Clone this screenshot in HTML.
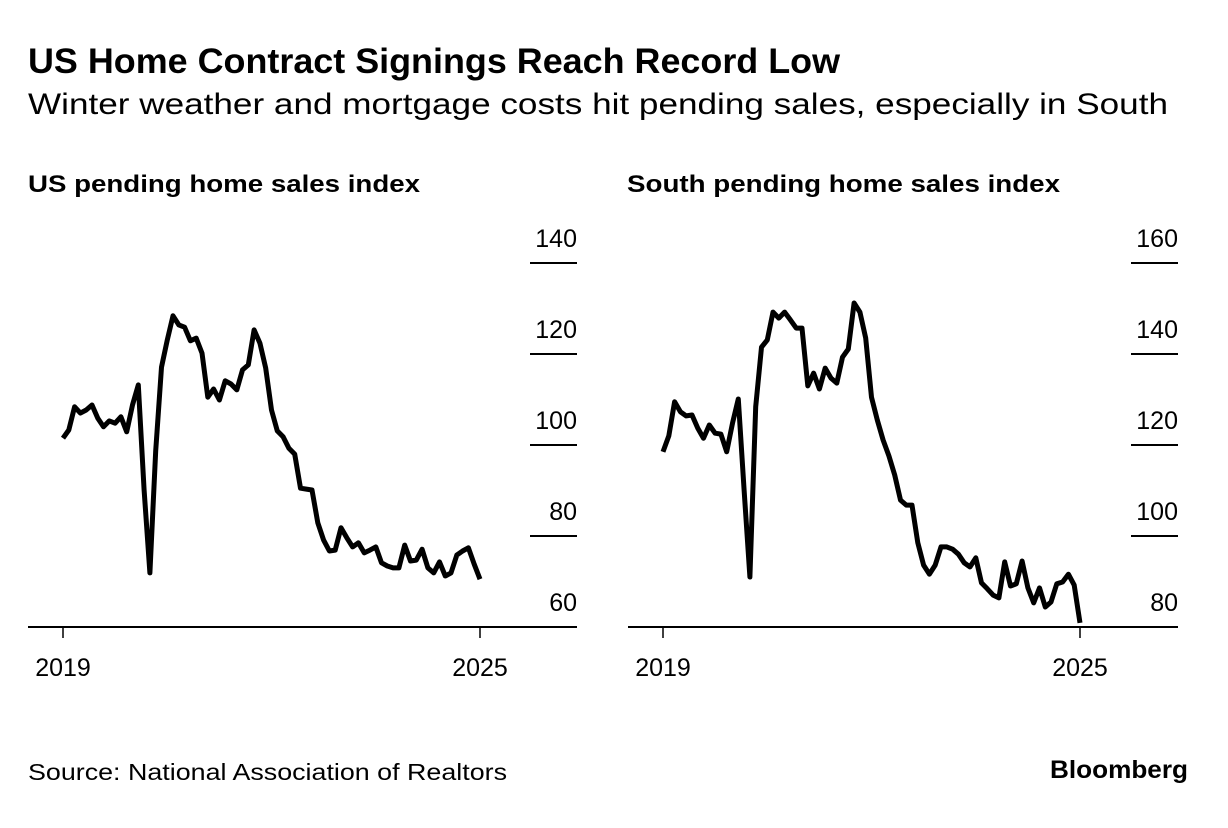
<!DOCTYPE html>
<html><head><meta charset="utf-8">
<style>
html,body{margin:0;padding:0;background:#fff;}
svg{display:block;font-family:"Liberation Sans",Arial,sans-serif;}
</style></head>
<body>
<svg id="chart" width="1228" height="828" viewBox="0 0 1228 828" xmlns="http://www.w3.org/2000/svg">
<rect width="1228" height="828" fill="#fff"/>
<text x="28" y="73" font-size="35" font-weight="bold" textLength="812" lengthAdjust="spacingAndGlyphs">US Home Contract Signings Reach Record Low</text>
<text x="28" y="114" font-size="30" textLength="1140" lengthAdjust="spacingAndGlyphs">Winter weather and mortgage costs hit pending sales, especially in South</text>
<text x="28" y="192" font-size="24" font-weight="bold" textLength="392" lengthAdjust="spacingAndGlyphs">US pending home sales index</text>
<text x="627" y="192" font-size="24" font-weight="bold" textLength="433" lengthAdjust="spacingAndGlyphs">South pending home sales index</text>
<g id="panelUS"></g>
<g id="panelSouth"></g>
<text x="28" y="780" font-size="23" textLength="479" lengthAdjust="spacingAndGlyphs">Source: National Association of Realtors</text>
<text x="1188" y="778" font-size="25" font-weight="bold" text-anchor="end" textLength="138" lengthAdjust="spacingAndGlyphs">Bloomberg</text>
</svg>
<script>
const usValues=[101.5,103.3,108.4,107.0,107.7,108.8,105.9,104.0,105.3,104.8,106.2,102.9,108.8,113.2,90.1,71.9,98.7,117.1,123.1,128.4,126.4,125.9,122.9,123.5,120.2,110.5,112.3,109.9,114.1,113.4,112.1,116.5,117.6,125.3,122.4,116.9,107.7,103.1,101.8,99.3,98.0,90.5,90.3,90.1,82.9,79.1,76.7,76.9,81.8,79.6,77.6,78.5,76.3,76.9,77.6,74.1,73.4,73.0,73.0,78.0,74.5,74.7,77.1,73.0,71.9,74.3,71.2,71.9,75.8,76.7,77.4,73.8,70.5];
const southValues=[118.5,122.0,129.5,127.3,126.4,126.6,123.7,121.5,124.4,122.6,122.4,118.5,124.8,130.1,110.1,91.0,128.4,141.5,143.1,149.2,147.9,149.2,147.5,145.7,145.7,133.0,135.8,132.3,136.9,134.7,133.6,139.3,141.1,151.2,149.2,143.5,130.5,125.5,121.1,117.6,113.4,107.9,106.8,106.8,98.5,93.6,91.6,93.6,97.6,97.6,97.1,96.0,94.1,93.2,95.2,89.7,88.4,87.0,86.4,94.3,89.0,89.5,94.5,88.6,85.3,88.6,84.4,85.5,89.5,89.9,91.6,89.2,80.9];
const usTicks=[60,80,100,120,140];
const southTicks=[80,100,120,140,160];
const yearLabels=["2019","2025"];
const yearMonths=[0,72];

const NS="http://www.w3.org/2000/svg";
function mk(tag,attrs,parent){const e=document.createElementNS(NS,tag);for(const k in attrs)e.setAttribute(k,attrs[k]);parent.appendChild(e);return e;}

function drawPanel(g,vals,ticks,x0,x1,pre){
  const xs=m=>x0+417*m/72;
  const ymin=ticks[0],ymax=ticks[ticks.length-1];
  const ys=v=>627-(v-ymin)*(364/(ymax-ymin));
  const right=x1;
  ticks.forEach((t,i)=>{
    const y=ys(t);
    if(i>0){const l=mk('line',{x1:right-47,x2:right,y1:y,y2:y,stroke:'#000','stroke-width':2},g);
      
      }
    const tx=mk('text',{x:right,y:y-16,'font-size':25,'text-anchor':'end'},g);
    
    
    tx.textContent=t;
  });
  const base=mk('line',{x1:x0-35,x2:right,y1:627,y2:627,stroke:'#000','stroke-width':2},g);
  
  
  yearLabels.forEach((lab,i)=>{
    const x=xs(yearMonths[i]);
    const tk=mk('line',{x1:x,x2:x,y1:627,y2:638,stroke:'#000','stroke-width':1.5},g);
    
    
    const tx=mk('text',{x:x,y:676,'font-size':25,'text-anchor':'middle'},g);
    
    
    tx.textContent=lab;
  });
  const d=vals.map((v,i)=>(i?'L':'M')+xs(i).toFixed(1)+','+ys(v).toFixed(1)).join('');
  const p=mk('path',{d:d,fill:'none',stroke:'#000','stroke-width':5,'stroke-linejoin':'round','stroke-linecap':'butt'},g);
  
  
}
drawPanel(document.getElementById('panelUS'),usValues,usTicks,63,577,'us');
drawPanel(document.getElementById('panelSouth'),southValues,southTicks,663,1178,'south');
</script>
</body></html>
